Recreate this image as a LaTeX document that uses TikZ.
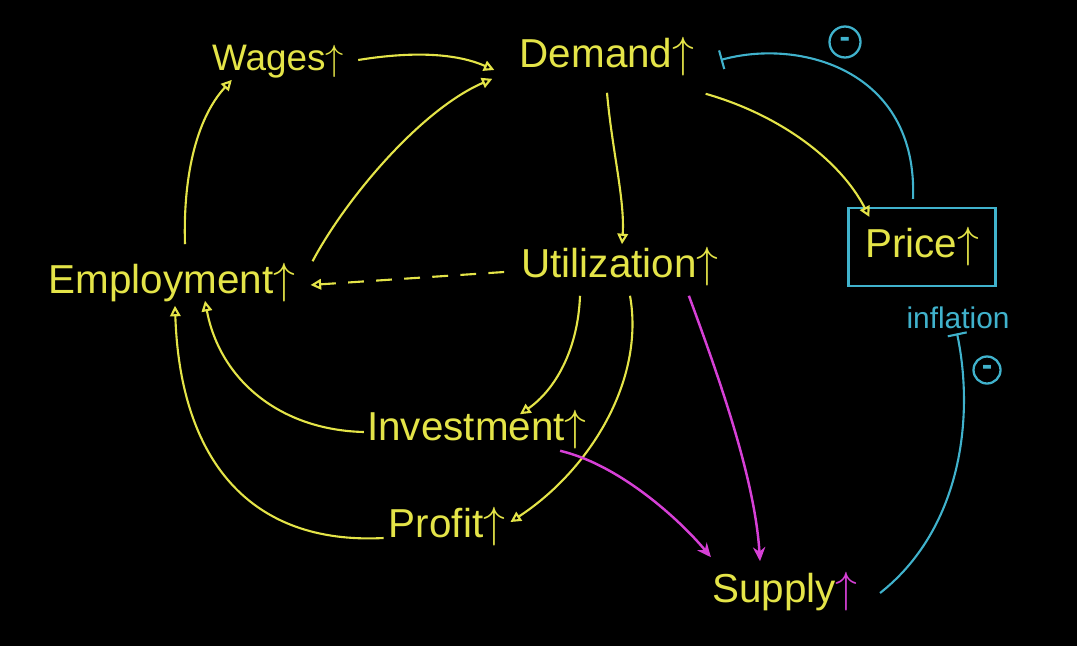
\documentclass[tikz,border=0pt]{standalone}
\usepackage{fontspec}
\setmainfont{Liberation Sans}
\usetikzlibrary{arrows.meta}

\definecolor{chalkyellow}{RGB}{228,228,72}
\definecolor{chalkcyan}{RGB}{64,178,204}
\definecolor{chalkmagenta}{RGB}{214,64,214}

\begin{document}
\begin{tikzpicture}[x=0.02cm,y=-0.02cm,
  lbl/.style={text=chalkyellow,font=\fontsize{23}{27}\selectfont,inner sep=0pt},
  link/.style={chalkyellow,line width=1.2pt,-{Triangle[open,length=6pt,width=6pt]}},
  supplylink/.style={chalkmagenta,line width=1.4pt,-{Stealth[length=8pt,width=7pt]}},
  neglink/.style={chalkcyan,line width=1.2pt,-{Bar[width=11pt]}},
  minusmark/.style={circle,draw=chalkcyan,line width=1.3pt,text=chalkcyan,font=\bfseries\fontsize{18}{18}\selectfont,inner sep=0pt}]
\useasboundingbox (0,0) rectangle (1077,646);
\fill[black] (0,0) rectangle (1077,646);

\node[lbl,font=\fontsize{21}{25}\selectfont] (wages) at (278,62) {Wages$\uparrow$};
\node[lbl] (demand) at (607,57) {Demand$\uparrow$};
\node[lbl] (employ) at (172,283) {Employment$\uparrow$};
\node[lbl] (util) at (620,267) {Utilization$\uparrow$};
\node[lbl,draw=chalkcyan,line width=1.2pt,minimum width=2.94cm,minimum height=1.56cm] (price) at (922,247) {Price$\uparrow$};
\node[lbl,text=chalkcyan,font=\fontsize{17}{20}\selectfont] (infl) at (958,318) {inflation};
\node[lbl] (invest) at (477,430) {Investment$\uparrow$};
\node[lbl] (profit) at (447,527) {Profit$\uparrow$};
\node[lbl] (supply) at (785,592) {Supply{\color{chalkmagenta}$\uparrow$}};

\node[minusmark,minimum size=0.62cm] (minusA) at (845,42) {-};
\node[minusmark,minimum size=0.54cm] (minusB) at (987,370) {-};

% demand side
\draw[link] ([shift={(14,-2)}]wages.east) .. controls (420,50) and (460,55) .. ([shift={(-25,13)}]demand.west);
\draw[link] ([shift={(13,-19)}]employ.north) .. controls (183,180) and (195,120) .. ([shift={(20,1)}]wages.south west);
\draw[link] ([shift={(17,-2)}]employ.north east) .. controls (345,200) and (420,110) .. ([shift={(-27,2)}]demand.south west);
\draw[link] ([shift={(0,16)}]demand.south) .. controls (612,150) and (625,200) .. ([shift={(2,-3)}]util.north);
\draw[link] ([shift={(11,17)}]demand.south east) .. controls (780,115) and (840,160) .. ([shift={(22,10)}]price.north west);
\draw[neglink] ([shift={(-9,-8)}]price.north) .. controls (918,70) and (800,38) .. ([shift={(26,3)}]demand.east);

\draw[link,dash pattern=on 9pt off 7pt] ([shift={(-17,5)}]util.west) -- ([shift={(15,2)}]employ.east);

% investment and profit
\draw[link] ([shift={(-40,9)}]util.south) .. controls (578,350) and (555,390) .. ([shift={(43,4)}]invest.north);
\draw[link] ([shift={(10,9)}]util.south) .. controls (645,380) and (590,470) .. ([shift={(5,-5)}]profit.east);
\draw[link] ([shift={(-3,2)}]invest.west) .. controls (280,430) and (220,380) .. ([shift={(33,-2)}]employ.south);
\draw[link] ([shift={(-5,11)}]profit.west) .. controls (250,545) and (180,460) .. ([shift={(3,3)}]employ.south);

% supply side
\draw[supplylink] ([shift={(-30,9)}]util.south east) .. controls (720,380) and (755,480) .. ([shift={(-25,-11)}]supply.north);
\draw[supplylink] ([shift={(-27,1)}]invest.south east) .. controls (620,465) and (680,520) .. ([shift={(-1,-15)}]supply.north west);
\draw[neglink] ([shift={(22,1)}]supply.east) .. controls (960,530) and (975,420) .. ([shift={(-1,4)}]infl.south);

\end{tikzpicture}
\end{document}
